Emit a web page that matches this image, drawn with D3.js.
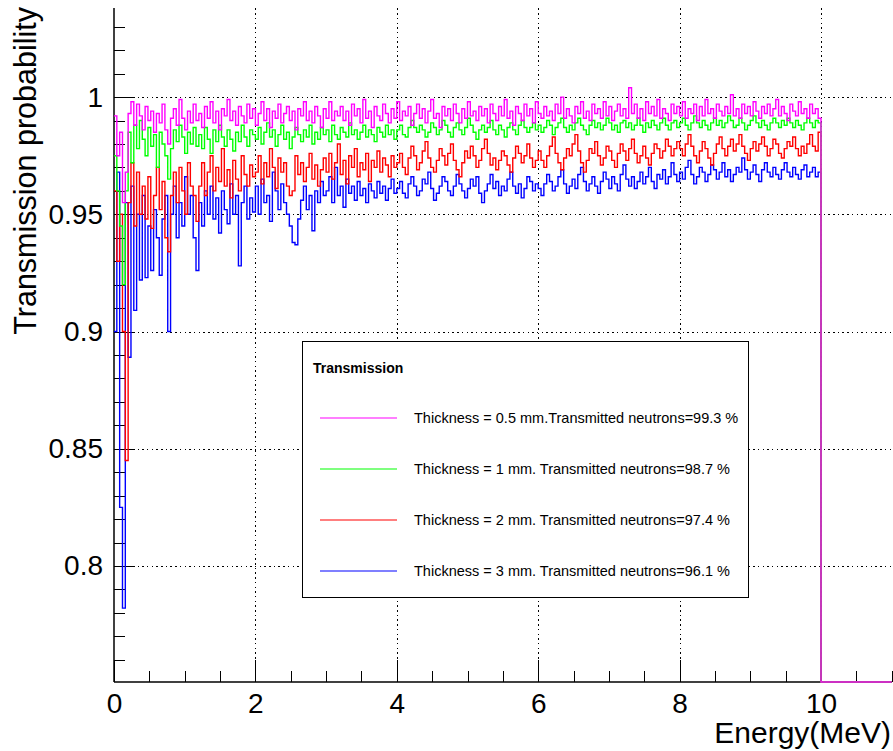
<!DOCTYPE html>
<html>
<head>
<meta charset="utf-8">
<script src="https://cdn.jsdelivr.net/npm/d3@7"></script>
<style>
  html, body { margin: 0; padding: 0; background: #fff; }
  svg { display: block; font-family: "Liberation Sans", Arial, Helvetica, sans-serif; }
</style>
</head>
<body>
<svg id="chart" width="893" height="751"></svg>
<script>
// Histogram binning: 250 bins of 0.04 MeV between 0 and 10 MeV, empty up to 11 MeV
const energyMin = 0;
const energyMax = 10;
const axisMax = 11;
const nBins = 250;

// Transmission probability per energy bin, 0.5 mm layer
const trans05mm = [
  0.992, 0.975, 0.985, 0.955, 0.968, 0.993, 0.998, 0.988, 0.997, 0.992,
  0.986, 0.996, 0.990, 0.994, 0.985, 0.993, 0.989, 0.997, 0.986, 0.980,
  0.991, 0.995, 0.988, 0.999, 0.991, 0.986, 0.994, 0.989, 0.997, 0.990,
  0.993, 0.987, 0.996, 0.991, 0.998, 0.989, 0.994, 0.986, 0.995, 0.992,
  0.999, 0.990, 0.994, 0.988, 0.996, 0.992, 0.989, 0.997, 0.991, 0.995,
  0.988, 0.993, 0.998, 0.990, 0.995, 0.987, 0.994, 0.991, 0.997, 0.989,
  0.993, 0.996, 0.990, 0.994, 0.986, 0.995, 0.992, 0.998, 0.990, 0.994,
  0.989, 0.996, 0.992, 0.987, 0.995, 0.991, 0.998, 0.990, 0.994, 0.992,
  0.996, 0.990, 0.994, 0.988, 0.997, 0.992, 0.995, 0.989, 0.999, 0.991,
  0.994, 0.987, 0.996, 0.992, 0.990, 0.997, 0.993, 0.989, 0.995, 0.991,
  0.998, 0.990, 0.994, 0.992, 0.996, 0.988, 0.993, 0.997, 0.991, 0.995,
  0.989, 0.994, 0.999, 0.991, 0.993, 0.987, 0.996, 0.992, 0.995, 0.990,
  0.997, 0.993, 0.989, 0.995, 0.991, 0.998, 0.992, 0.994, 0.990, 0.996,
  0.992, 0.995, 0.989, 0.997, 0.993, 0.990, 0.996, 0.992, 0.999, 0.991,
  0.994, 0.988, 0.996, 0.993, 0.990, 0.997, 0.992, 0.995, 0.989, 0.998,
  0.993, 0.991, 0.996, 0.992, 0.994, 0.990, 0.997, 0.993, 1.000, 0.991,
  0.995, 0.992, 0.989, 0.996, 0.993, 0.998, 0.991, 0.994, 0.990, 0.997,
  0.993, 0.995, 0.991, 0.998, 0.992, 0.996, 0.990, 0.994, 0.997, 0.992,
  0.995, 0.991, 1.004, 0.993, 0.997, 0.991, 0.995, 0.990, 0.998, 0.993,
  0.996, 0.992, 0.999, 0.991, 0.995, 0.993, 0.990, 0.997, 0.993, 0.996,
  0.992, 0.998, 0.991, 0.995, 0.993, 0.997, 0.990, 0.996, 0.992, 0.999,
  0.993, 0.995, 0.991, 0.997, 0.994, 0.992, 0.996, 0.993, 1.001, 0.992,
  0.995, 0.991, 0.997, 0.993, 0.996, 0.992, 0.998, 0.994, 0.991, 0.996,
  0.993, 0.997, 0.992, 0.995, 0.999, 0.992, 0.996, 0.993, 0.990, 0.997,
  0.994, 0.992, 0.998, 0.993, 0.995, 0.991, 0.997, 0.993, 0.995, 0.991
];

// 1 mm layer
const trans1mm = [
  0.975, 0.960, 0.945, 0.920, 0.960, 0.985, 0.972, 0.988, 0.978, 0.990,
  0.982, 0.975, 0.987, 0.979, 0.984, 0.970, 0.985, 0.980, 0.975, 0.965,
  0.978, 0.986, 0.981, 0.988, 0.983, 0.976, 0.985, 0.980, 0.987, 0.979,
  0.984, 0.978, 0.987, 0.982, 0.976, 0.986, 0.981, 0.988, 0.983, 0.979,
  0.986, 0.982, 0.977, 0.985, 0.981, 0.988, 0.983, 0.979, 0.986, 0.984,
  0.982, 0.987, 0.980, 0.985, 0.989, 0.983, 0.986, 0.979, 0.984, 0.988,
  0.982, 0.985, 0.978, 0.983, 0.987, 0.984, 0.981, 0.986, 0.983, 0.988,
  0.980, 0.985, 0.982, 0.987, 0.984, 0.986, 0.981, 0.988, 0.984, 0.982,
  0.987, 0.985, 0.983, 0.989, 0.984, 0.986, 0.982, 0.985, 0.988, 0.983,
  0.986, 0.984, 0.981, 0.987, 0.985, 0.983, 0.988, 0.984, 0.986, 0.982,
  0.986, 0.988, 0.984, 0.983, 0.987, 0.990, 0.987, 0.985, 0.988, 0.986,
  0.983, 0.985, 0.989, 0.987, 0.984, 0.986, 0.990, 0.988, 0.985, 0.983,
  0.987, 0.989, 0.986, 0.984, 0.987, 0.991, 0.988, 0.985, 0.982, 0.986,
  0.988, 0.985, 0.987, 0.990, 0.986, 0.984, 0.988, 0.986, 0.983, 0.987,
  0.989, 0.986, 0.984, 0.988, 0.990, 0.987, 0.985, 0.987, 0.989, 0.986,
  0.988, 0.985, 0.987, 0.990, 0.988, 0.984, 0.987, 0.989, 0.991, 0.987,
  0.985, 0.988, 0.986, 0.989, 0.991, 0.988, 0.986, 0.984, 0.988, 0.990,
  0.987, 0.989, 0.986, 0.988, 0.991, 0.989, 0.986, 0.988, 0.985, 0.989,
  0.990, 0.987, 0.989, 0.986, 0.988, 0.991, 0.988, 0.985, 0.989, 0.987,
  0.990, 0.988, 0.986, 0.989, 0.991, 0.988, 0.986, 0.989, 0.990, 0.987,
  0.989, 0.991, 0.988, 0.986, 0.989, 0.992, 0.989, 0.987, 0.990, 0.988,
  0.986, 0.989, 0.991, 0.988, 0.990, 0.987, 0.989, 0.992, 0.990, 0.987,
  0.988, 0.991, 0.989, 0.986, 0.988, 0.990, 0.992, 0.989, 0.987, 0.990,
  0.988, 0.986, 0.989, 0.991, 0.989, 0.987, 0.990, 0.988, 0.991, 0.989,
  0.987, 0.990, 0.988, 0.986, 0.989, 0.991, 0.989, 0.987, 0.990, 0.989
];

// 2 mm layer
const trans2mm = [
  0.960, 0.930, 0.950, 0.900, 0.845, 0.955, 0.972, 0.945, 0.968, 0.950,
  0.962, 0.948, 0.966, 0.944, 0.958, 0.970, 0.952, 0.964, 0.940, 0.934,
  0.958, 0.968, 0.955, 0.970, 0.960, 0.950, 0.972, 0.962, 0.958, 0.947,
  0.962, 0.972, 0.958, 0.968, 0.975, 0.960, 0.970, 0.964, 0.978, 0.962,
  0.969, 0.957, 0.973, 0.965, 0.960, 0.975, 0.967, 0.962, 0.971, 0.966,
  0.968, 0.975, 0.963, 0.972, 0.966, 0.978, 0.970, 0.961, 0.974, 0.968,
  0.972, 0.962, 0.958, 0.960, 0.975, 0.967, 0.972, 0.964, 0.970, 0.976,
  0.965, 0.971, 0.962, 0.969, 0.974, 0.968, 0.976, 0.965, 0.972, 0.980,
  0.967, 0.973, 0.963, 0.975, 0.970, 0.978, 0.966, 0.972, 0.969, 0.976,
  0.964, 0.973, 0.970, 0.977, 0.968, 0.974, 0.971, 0.966, 0.975, 0.970,
  0.972, 0.976, 0.970, 0.967, 0.974, 0.979, 0.975, 0.969, 0.972, 0.977,
  0.981, 0.974, 0.970, 0.968, 0.973, 0.978, 0.975, 0.971, 0.976, 0.980,
  0.973, 0.969, 0.966, 0.972, 0.977, 0.974, 0.979, 0.975, 0.970, 0.973,
  0.978, 0.982, 0.976, 0.971, 0.974, 0.969, 0.973, 0.977, 0.975, 0.971,
  0.968, 0.974, 0.979, 0.976, 0.972, 0.975, 0.980, 0.974, 0.970, 0.973,
  0.977, 0.973, 0.970, 0.975, 0.979, 0.983, 0.976, 0.972, 0.969, 0.974,
  0.978, 0.975, 0.980, 0.984, 0.977, 0.972, 0.968, 0.973, 0.978, 0.976,
  0.981, 0.975, 0.971, 0.974, 0.979, 0.977, 0.973, 0.970, 0.976, 0.980,
  0.977, 0.973, 0.978, 0.982, 0.976, 0.972, 0.975, 0.979, 0.974, 0.971,
  0.976, 0.980, 0.978, 0.974, 0.977, 0.982, 0.979, 0.975, 0.978, 0.981,
  0.978, 0.975, 0.980, 0.984, 0.979, 0.975, 0.972, 0.977, 0.981, 0.978,
  0.974, 0.971, 0.976, 0.980, 0.983, 0.978, 0.975, 0.979, 0.982, 0.977,
  0.980, 0.984, 0.979, 0.976, 0.973, 0.978, 0.981, 0.977, 0.980, 0.983,
  0.979, 0.975, 0.978, 0.982, 0.980, 0.976, 0.974, 0.978, 0.981, 0.979,
  0.983, 0.978, 0.975, 0.979, 0.976, 0.980, 0.984, 0.979, 0.977, 0.985
];

// 3 mm layer
const trans3mm = [
  0.900, 0.968, 0.825, 0.782, 0.955, 0.889, 0.962, 0.909, 0.950, 0.922,
  0.958, 0.923, 0.945, 0.926, 0.952, 0.940, 0.924, 0.948, 0.958, 0.900,
  0.950, 0.962, 0.940, 0.955, 0.945, 0.966, 0.950, 0.958, 0.940, 0.926,
  0.955, 0.945, 0.960, 0.950, 0.962, 0.948, 0.957, 0.942, 0.960, 0.952,
  0.946, 0.963, 0.950, 0.958, 0.928, 0.955, 0.962, 0.948, 0.957, 0.951,
  0.962, 0.950, 0.965, 0.955, 0.958, 0.947, 0.968, 0.960, 0.952, 0.963,
  0.955, 0.950, 0.945, 0.938, 0.937, 0.948, 0.956, 0.962, 0.952, 0.958,
  0.943, 0.960, 0.955, 0.964, 0.958, 0.960, 0.966, 0.955, 0.970, 0.958,
  0.962, 0.953, 0.965, 0.959, 0.962, 0.956, 0.964, 0.958, 0.961, 0.955,
  0.963, 0.960, 0.957, 0.964, 0.959, 0.962, 0.956, 0.961, 0.965, 0.959,
  0.961, 0.964, 0.959, 0.957, 0.963, 0.966, 0.962, 0.958, 0.960, 0.965,
  0.963, 0.968, 0.961, 0.956, 0.959, 0.962, 0.966, 0.964, 0.960, 0.958,
  0.962, 0.967, 0.963, 0.960, 0.957, 0.961, 0.965, 0.962, 0.966, 0.959,
  0.955, 0.960, 0.963, 0.967, 0.961, 0.964, 0.958, 0.962, 0.960, 0.965,
  0.968, 0.962, 0.959, 0.963, 0.957, 0.961, 0.966, 0.964, 0.960, 0.963,
  0.961, 0.958, 0.963, 0.967, 0.964, 0.960, 0.962, 0.966, 0.969, 0.963,
  0.959, 0.962, 0.965, 0.961, 0.967, 0.970, 0.964, 0.960, 0.963, 0.966,
  0.962, 0.959, 0.964, 0.968, 0.965, 0.961, 0.966, 0.963, 0.960, 0.967,
  0.971, 0.965, 0.962, 0.966, 0.961, 0.964, 0.968, 0.963, 0.966, 0.970,
  0.964, 0.961, 0.967, 0.965, 0.969, 0.963, 0.966, 0.972, 0.967, 0.964,
  0.968, 0.965, 0.970, 0.973, 0.967, 0.963, 0.966, 0.970, 0.968, 0.964,
  0.967, 0.971, 0.969, 0.965, 0.968, 0.972, 0.966, 0.969, 0.964, 0.967,
  0.970, 0.968, 0.974, 0.969, 0.965, 0.968, 0.971, 0.967, 0.964, 0.969,
  0.972, 0.968, 0.966, 0.970, 0.967, 0.965, 0.969, 0.972, 0.968, 0.966,
  0.970, 0.967, 0.965, 0.969, 0.971, 0.966, 0.968, 0.970, 0.966, 0.968
];

const legendLabels = [
  "Thickness = 0.5 mm.Transmitted neutrons=99.3 %",
  "Thickness = 1 mm. Transmitted neutrons=98.7 %",
  "Thickness = 2 mm. Transmitted neutrons=97.4 %",
  "Thickness = 3 mm. Transmitted neutrons=96.1 %"
];
const seriesColors = ["#ff00ff", "#00ff00", "#ff0000", "#0000ff"];
const legendTitle = "Transmission";
const xTitle = "Energy(MeV)";
const yTitle = "Transmission probability";

const xMajorTicks = [0, 2, 4, 6, 8, 10];
const yMajorTicks = [0.8, 0.85, 0.9, 0.95, 1.0];

// ---- layout ----
const svg = d3.select("#chart");
const frame = { left: 114, right: 891.7, top: 8, bottom: 682 };
const font = "'Liberation Sans', Arial, Helvetica, sans-serif";

const x = d3.scaleLinear().domain([energyMin, axisMax]).range([frame.left, frame.right]);
const y = d3.scaleLinear().domain([0.7505, 1.038]).range([frame.bottom, frame.top]).clamp(true);

const plotW = frame.right - frame.left;
const plotH = frame.bottom - frame.top;

// dotted grid on major ticks
const gridX = svg.append("g")
  .attr("transform", `translate(0,${frame.bottom})`)
  .call(d3.axisBottom(x).tickValues(xMajorTicks.filter(d => d > 0)).tickSize(-plotH).tickFormat(""));
const gridY = svg.append("g")
  .attr("transform", `translate(${frame.left},0)`)
  .call(d3.axisLeft(y).tickValues(yMajorTicks).tickSize(-plotW).tickFormat(""));
[gridX, gridY].forEach(g => {
  g.select(".domain").remove();
  g.selectAll("line")
    .attr("stroke", "#000").attr("stroke-width", 1)
    .attr("stroke-dasharray", "1.5,3.2")
    .attr("shape-rendering", "crispEdges");
});

// minor tick values
const xMinor = d3.range(0, axisMax + 1e-9, 0.5).filter(v => Math.abs(v / 2 - Math.round(v / 2)) > 1e-6);
const yMinor = d3.range(76, 104).map(v => v / 100).filter(v => Math.round(v * 100) % 5 !== 0);

// axes (ticks point into the frame)
const xAxisMinor = svg.append("g").attr("transform", `translate(0,${frame.bottom})`)
  .call(d3.axisBottom(x).tickValues(xMinor).tickSize(-11).tickFormat(""));
const xAxis = svg.append("g").attr("transform", `translate(0,${frame.bottom})`)
  .call(d3.axisBottom(x).tickValues(xMajorTicks).tickSize(-22).tickPadding(11).tickFormat(d3.format("d")));
const yAxisMinor = svg.append("g").attr("transform", `translate(${frame.left},0)`)
  .call(d3.axisLeft(y).tickValues(yMinor).tickSize(-11).tickFormat(""));
const yAxis = svg.append("g").attr("transform", `translate(${frame.left},0)`)
  .call(d3.axisLeft(y).tickValues(yMajorTicks).tickSize(-21).tickPadding(11).tickFormat(d => d === 1 ? "1" : d3.format("")(d)));

[xAxisMinor, yAxisMinor].forEach(g => g.select(".domain").remove());
[xAxis, yAxis, xAxisMinor, yAxisMinor].forEach(g => {
  g.selectAll("line").attr("stroke", "#000").attr("stroke-width", 1).attr("shape-rendering", "crispEdges");
  g.select(".domain").attr("stroke", "#000").attr("stroke-width", 1.5);
});
xAxis.select(".domain").attr("d", `M${frame.left},0H${frame.right}`);
yAxis.select(".domain").attr("d", `M0,${frame.bottom}V${frame.top}`);
[xAxis, yAxis].forEach(g => g.selectAll("text")
  .attr("font-family", font).attr("font-size", 28).attr("fill", "#000"));

// axis titles
svg.append("text")
  .attr("x", 891).attr("y", 743)
  .attr("text-anchor", "end")
  .attr("font-family", font).attr("font-size", 30)
  .text(xTitle);
svg.append("text")
  .attr("transform", "translate(36,7) rotate(-90)")
  .attr("text-anchor", "end")
  .attr("font-family", font).attr("font-size", 30.5)
  .text(yTitle);

// step histograms: bin contents followed by the empty range above 10 MeV
const binW = (energyMax - energyMin) / nBins;
const stepLine = d3.line().x(d => x(d[0])).y(d => y(d[1])).curve(d3.curveStepAfter);
const series = [trans05mm, trans1mm, trans2mm, trans3mm];

const drawOrder = [3, 2, 1, 0];
drawOrder.forEach(k => {
  const pts = series[k].map((v, i) => [energyMin + i * binW, v]);
  pts.push([energyMax, 0], [axisMax, 0]);
  svg.append("path")
    .attr("d", stepLine(pts))
    .attr("fill", "none")
    .attr("stroke", seriesColors[k])
    .attr("stroke-width", 1.4);
});

// legend
const legend = svg.append("g");
legend.append("rect")
  .attr("x", 302).attr("y", 341).attr("width", 446).attr("height", 256)
  .attr("fill", "#fff").attr("stroke", "#000").attr("stroke-width", 1)
  .attr("shape-rendering", "crispEdges");
legend.append("text")
  .attr("x", 313).attr("y", 373)
  .attr("font-family", font).attr("font-size", 14).attr("font-weight", "bold")
  .text(legendTitle);
const rowY = [418, 469, 520, 571];
legendLabels.forEach((lab, k) => {
  legend.append("line")
    .attr("x1", 320).attr("x2", 397).attr("y1", rowY[k]).attr("y2", rowY[k])
    .attr("stroke", seriesColors[k]).attr("stroke-width", 1.2);
  legend.append("text")
    .attr("x", 414).attr("y", rowY[k] + 5)
    .attr("font-family", font).attr("font-size", 14.5)
    .text(lab);
});
</script>
</body>
</html>
